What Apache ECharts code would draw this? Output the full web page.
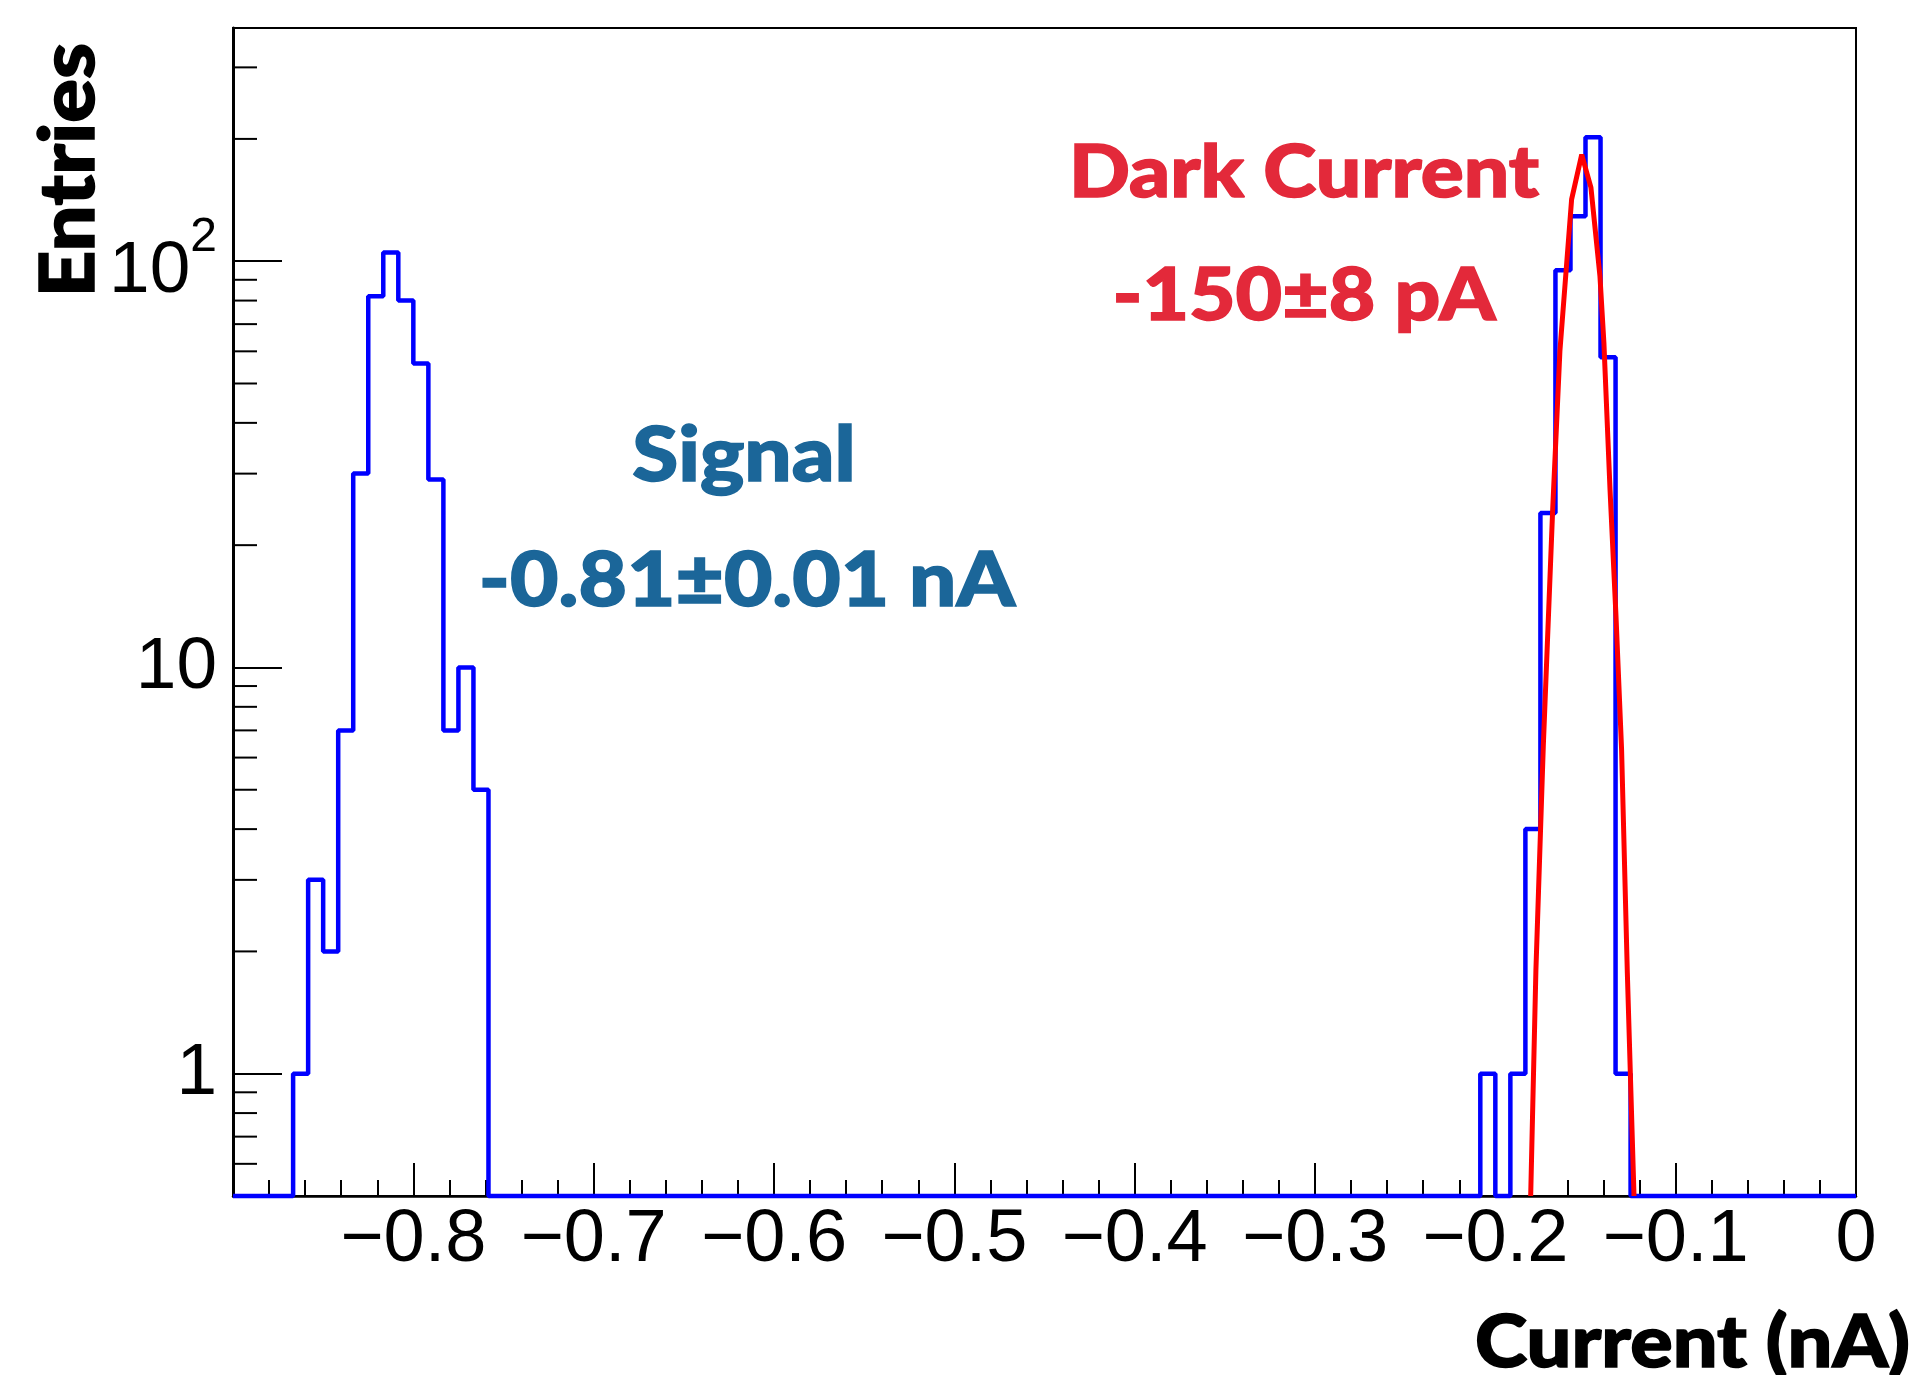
<!DOCTYPE html>
<html>
<head>
<meta charset="utf-8">
<script src="https://cdn.jsdelivr.net/npm/echarts@6/dist/echarts.min.js"></script>
<style>
  html, body { margin: 0; padding: 0; background: #fff; }
  #chart { width: 1922px; height: 1375px; }
</style>
</head>
<body>
<div id="chart"></div>
<script>
// histogram: 108 bins of 1/120 nA between -0.9 and 0
const binLow = -0.9;
const binWidth = 1 / 120;
const nBins = 108;

// counts (log scale)
const signalFirstBin = 4;
const signalCounts = [1, 3, 2, 7, 30, 82, 105, 80, 56, 29, 7, 10, 5];
const darkFirstBin = 83;
const darkCounts = [1, 0, 1, 4, 24, 95, 129, 202, 58, 1];

// gaussian fit to the dark current peak, points along the red curve
const fitX = [-0.1804, -0.1775, -0.1734, -0.1682, -0.1642, -0.1577, -0.1521,
              -0.1470, -0.1420, -0.1398, -0.1364, -0.1331, -0.1300, -0.1268, -0.1231];
const fitY = [0.5, 1.8, 6.4, 24.5, 60, 142, 183, 152, 92, 63, 27.4, 13.4, 6.3, 1.77, 0.5];

// axes
const yMin = 0.5;
const yMax = 375;
const yMinorTicks = [0.6, 0.7, 0.8, 0.9, 2, 3, 4, 5, 6, 7, 8, 9,
                     20, 30, 40, 50, 60, 70, 80, 90, 200, 300];

const signalColor = '#1b6699';
const darkColor = '#e3293a';
const tickFont = '"Liberation Sans", Arial, Helvetica, sans-serif';
const heavyFont = 'Lato, "Open Sans", "DejaVu Sans", sans-serif';

// fill bins, empty ones sit on the frame bottom like ROOT does on log scale
const counts = new Array(nBins).fill(0);
signalCounts.forEach((c, i) => { counts[signalFirstBin + i] = c; });
darkCounts.forEach((c, i) => { counts[darkFirstBin + i] = c; });

const histPts = [];
counts.forEach((c, k) => {
  const lo = binLow + k * binWidth;
  const v = c > 0 ? c : yMin;
  histPts.push([lo, v], [lo + binWidth, v]);
});

const fitPts = fitX.map((x, i) => [x, fitY[i]]);

const chart = echarts.init(document.getElementById('chart'), null, { renderer: 'canvas' });

// heavy rounded labels; Lato bold is stretched and stroked to get the Avenir-heavy look
const heavyText = (text, x, y, size, color, align, extra) => Object.assign({
  type: 'text',
  x: x,
  y: y,
  scaleX: 1.1,
  silent: true,
  z: 10,
  style: {
    text: text,
    fontSize: size,
    fontWeight: 900,
    fontFamily: heavyFont,
    fill: color,
    stroke: color,
    lineWidth: 1.5,
    align: align,
    textAlign: align,
    verticalAlign: 'middle',
    textVerticalAlign: 'middle'
  }
}, extra || {});

chart.setOption({
  animation: false,
  backgroundColor: '#fff',
  grid: {
    left: 233,
    right: 66,
    top: 28,
    bottom: 179,
    show: true,
    borderColor: '#000',
    borderWidth: 2,
    containLabel: false,
    outerBoundsMode: 'none'
  },
  xAxis: {
    type: 'value',
    min: -0.9,
    max: 0,
    interval: 0.1,
    axisLine: { show: true, onZero: false, lineStyle: { color: '#000', width: 2.5 } },
    axisTick: { show: true, inside: true, length: 33, lineStyle: { color: '#000', width: 2 } },
    minorTick: { show: true, splitNumber: 5, length: 16, lineStyle: { color: '#000', width: 2 } },
    splitLine: { show: false },
    minorSplitLine: { show: false },
    axisLabel: {
      show: true,
      showMinLabel: false,
      margin: 8,
      fontSize: 74,
      fontFamily: tickFont,
      color: '#000',
      formatter: v => (Math.abs(v) < 1e-9 ? '0' : '\u2212' + Math.abs(v).toFixed(1))
    }
  },
  yAxis: {
    type: 'log',
    logBase: 10,
    min: yMin,
    max: yMax,
    axisLine: { show: true, onZero: false, lineStyle: { color: '#000', width: 3 } },
    axisTick: { show: true, inside: true, length: 49, lineStyle: { color: '#000', width: 2 } },
    splitLine: { show: false },
    axisLabel: {
      show: true,
      showMinLabel: false,
      showMaxLabel: false,
      margin: 16,
      fontSize: 73,
      fontFamily: tickFont,
      color: '#000',
      formatter: v => {
        if (Math.abs(v - 1) < 1e-6) return '1';
        if (Math.abs(v - 10) < 1e-6) return '10';
        if (Math.abs(v - 100) < 1e-6) return '{n|10}{s|2}';
        return '';
      },
      rich: {
        n: { fontSize: 73, fontFamily: tickFont, color: '#000', lineHeight: 73, verticalAlign: 'bottom' },
        s: { fontSize: 48, fontFamily: tickFont, color: '#000', lineHeight: 95, verticalAlign: 'top' }
      }
    }
  },
  series: [
    {
      name: 'hist',
      type: 'line',
      data: histPts,
      symbol: 'none',
      clip: false,
      z: 3,
      lineStyle: { color: '#0000ff', width: 4.5 }
    },
    {
      name: 'fit',
      type: 'line',
      data: fitPts,
      symbol: 'none',
      clip: true,
      z: 4,
      lineStyle: { color: '#ff0000', width: 5 }
    },
    {
      // minor ticks of the log axis at 2..9 per decade
      name: 'yminor',
      type: 'custom',
      silent: true,
      clip: false,
      z: 5,
      data: yMinorTicks.map(v => [binLow, v]),
      renderItem: (params, api) => {
        const p = api.coord([api.value(0), api.value(1)]);
        return {
          type: 'line',
          shape: { x1: p[0], y1: p[1], x2: p[0] + 24, y2: p[1] },
          style: { stroke: '#000', lineWidth: 2 }
        };
      }
    }
  ],
  graphic: [
    heavyText('Signal', 744, 456, 76, signalColor, 'center'),
    heavyText('-0.81\u00b10.01 nA', 747, 581, 76, signalColor, 'center'),
    heavyText('Dark Current', 1304, 173, 73, darkColor, 'center'),
    heavyText('-150\u00b18 pA', 1304, 296, 73, darkColor, 'center'),
    heavyText('Current (nA)', 1910, 1344, 72, '#000', 'right'),
    heavyText('Entries', 69, 43, 77, '#000', 'right', { rotation: Math.PI / 2, scaleX: 1.06 })
  ]
});
</script>
</body>
</html>
